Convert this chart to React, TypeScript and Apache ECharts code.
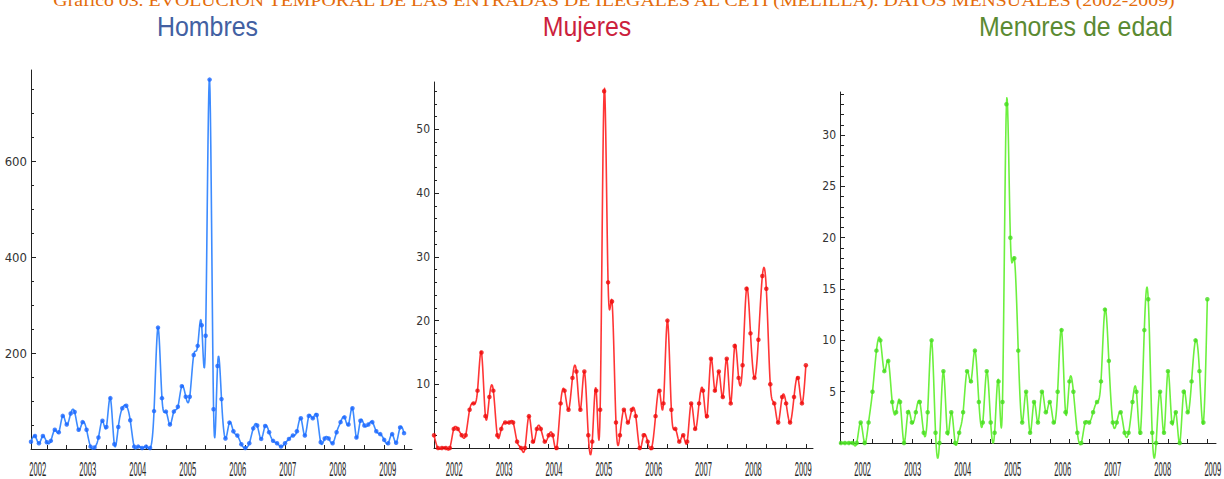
import React, { useEffect, useRef } from 'react';
import * as echarts from 'echarts';

// ---- data ----
const hombres = [
  15, 27, 12, 27, 14, 17, 40, 35, 69, 51,
  74, 77, 40, 56, 40, 5, 3, 24, 59, 46,
  106, 10, 46, 85, 90, 60, 5, 5, 2, 5,
  2, 79, 253, 106, 78, 51, 78, 88, 131, 109,
  109, 196, 215, 258, 236, 770, 83, 173, 104, 22,
  55, 37, 28, 10, 2, 12, 43, 49, 21, 48,
  35, 17, 12, 5, 12, 21, 28, 37, 64, 28,
  69, 64, 71, 14, 22, 22, 12, 35, 56, 66,
  51, 85, 24, 59, 49, 51, 56, 37, 31, 19,
  12, 31, 13, 45, 33,
];
const mujeres = [
  2, 0, 0, 0, 0, 3, 3, 2, 2, 6,
  7, 9, 15, 5, 8, 9, 2, 3, 4, 4,
  4, 1, 0, 0, 5, 1, 3, 3, 1, 2,
  2, 0, 7, 9, 6, 11, 12, 6, 12, 2,
  1, 9, 6, 56, 26, 23, 4, 2, 6, 4,
  6, 5, 0, 2, 1, 0, 5, 9, 7, 20,
  6, 3, 1, 2, 1, 7, 3, 7, 9, 5,
  14, 9, 12, 8, 14, 7, 16, 11, 13, 25,
  18, 11, 17, 27, 25, 10, 7, 4, 8, 7,
  4, 8, 11, 7, 13,
];
const menores = [
  0, 0, 0, 0, 0, 2, 0, 2, 5, 9,
  10, 7, 8, 4, 3, 4, 0, 3, 2, 3,
  4, 1, 3, 10, 1, 0, 7, 1, 3, 0,
  1, 3, 7, 6, 9, 4, 2, 7, 2, 1,
  6, 4, 33, 20, 18, 9, 2, 5, 1, 4,
  2, 5, 3, 4, 2, 5, 11, 3, 6, 5,
  1, 0, 2, 2, 3, 4, 6, 13, 8, 2,
  2, 3, 1, 1, 4, 5, 1, 11, 14, 1,
  0, 5, 1, 7, 2, 3, 0, 5, 3, 6,
  10, 7, 2, 14,
];
const yearLabels = ['2002', '2003', '2004', '2005', '2006', '2007', '2008', '2009'];
const hombresTicks = [200, 400, 600];
const mujeresTicks = [10, 20, 30, 40, 50];
const menoresTicks = [5, 10, 15, 20, 25, 30];
const panelTitles = ['Hombres', 'Mujeres', 'Menores de edad'];
const mainTitle =
  'Gráfico 03. EVOLUCIÓN TEMPORAL DE LAS ENTRADAS DE ILEGALES AL CETI (MELILLA). DATOS MENSUALES (2002-2009)';

// ---- layout / style ----
const NARROW = '"Liberation Sans Narrow", "DejaVu Sans Condensed", "Liberation Sans", Arial, sans-serif';
const SANS = '"Liberation Sans", Arial, sans-serif';
const AXIS = '#222222';
const LABEL = '#333333';

const panels = [
  {
    data: hombres, title: panelTitles[0], titleColor: '#4260A2', titleX: 207.5,
    lineColor: '#3D8BFF', markerColor: '#1A66FF',
    grid: { left: 31, top: 70, width: 381, height: 379 },
    xMin: 0, xMax: 96, yMax: 790, major: hombresTicks, minorStep: 50, yLabelSize: 13,
    firstLabelAt: 1.7, labelStep: 12.6,
  },
  {
    data: mujeres, title: panelTitles[1], titleColor: '#CC1F3D', titleX: 587,
    lineColor: '#FF3535', markerColor: '#EE0A0A',
    grid: { left: 434, top: 82, width: 379, height: 366 },
    xMin: 0, xMax: 95.8, yMax: 57.45, major: mujeresTicks, minorStep: 2, yLabelSize: 12,
    firstLabelAt: 5.13, labelStep: 12.6,
  },
  {
    data: menores, title: panelTitles[2], titleColor: '#5B8A32', titleX: 1076,
    lineColor: '#6CF03E', markerColor: '#45DC1E',
    grid: { left: 840, top: 92, width: 376, height: 351 },
    xMin: -0.25, xMax: 95.2, yMax: 34.2, major: menoresTicks, minorStep: 1, yLabelSize: 12,
    firstLabelAt: 5.5, labelStep: 12.7,
  },
];

// natural cubic spline through equally spaced values
function splinePoints(ys: number[], steps: number): number[][] {
  const n = ys.length;
  const M = new Array(n).fill(0);
  const m = n - 2;
  if (m > 0) {
    const c = new Array(m).fill(0);
    const d = new Array(m).fill(0);
    for (let k = 0; k < m; k++) {
      const i = k + 1;
      const rhs = 6 * (ys[i + 1] - 2 * ys[i] + ys[i - 1]);
      const denom = k === 0 ? 4 : 4 - c[k - 1];
      c[k] = 1 / denom;
      d[k] = (rhs - (k === 0 ? 0 : d[k - 1])) / denom;
    }
    for (let k = m - 1; k >= 0; k--) {
      M[k + 1] = d[k] - c[k] * M[k + 2];
    }
  }
  const pts: number[][] = [];
  for (let i = 0; i < n - 1; i++) {
    for (let s = 0; s < steps; s++) {
      const t = s / steps;
      const u = 1 - t;
      const v = u * ys[i] + t * ys[i + 1] + ((u * u * u - u) * M[i] + (t * t * t - t) * M[i + 1]) / 6;
      pts.push([i + t, v]);
    }
  }
  pts.push([n - 1, ys[n - 1]]);
  return pts;
}

function range(from: number, to: number, step: number): number[] {
  const out: number[] = [];
  for (let v = from; v <= to + 1e-9; v += step) out.push(Math.round(v * 1000) / 1000);
  return out;
}

export default function App() {
  const ref = useRef<HTMLDivElement>(null);

  useEffect(() => {
    if (!ref.current) return;
    const chart = echarts.init(ref.current, null, { renderer: 'svg' });

    const grids: any[] = [];
    const xAxes: any[] = [];
    const yAxes: any[] = [];
    const series: any[] = [];

    panels.forEach((p, k) => {
      grids.push({ ...p.grid, containLabel: false });
      const last = p.data.length - 1;
      const xTicks: number[] = [];
      for (let v = last; v >= 0; v -= 5) xTicks.unshift(v);
      xAxes.push({
        type: 'value', gridIndex: k, min: p.xMin, max: p.xMax,
        axisLine: { show: true, onZero: false, lineStyle: { color: AXIS, width: 1 } },
        axisTick: { show: true, inside: true, length: 4, customValues: xTicks, lineStyle: { color: AXIS } },
        axisLabel: { show: false },
        splitLine: { show: false },
      });
      const minor = range(p.minorStep, p.yMax, p.minorStep).filter((v) => !p.major.includes(v));
      yAxes.push({
        type: 'value', gridIndex: k, position: 'left', min: 0, max: p.yMax,
        axisLine: { show: true, onZero: false, lineStyle: { color: AXIS, width: 1 } },
        axisTick: { show: true, inside: true, length: 5, customValues: p.major, lineStyle: { color: AXIS } },
        axisLabel: {
          show: true, customValues: p.major, margin: 4,
          fontSize: p.yLabelSize, fontFamily: NARROW, color: LABEL,
        },
        splitLine: { show: false },
      });
      yAxes.push({
        type: 'value', gridIndex: k, position: 'left', offset: 0, min: 0, max: p.yMax,
        axisLine: { show: false },
        axisTick: { show: true, inside: true, length: 3, customValues: minor, lineStyle: { color: AXIS } },
        axisLabel: { show: false },
        splitLine: { show: false },
      });

      const curve = splinePoints(p.data, 10);
      series.push({
        type: 'custom', xAxisIndex: k, yAxisIndex: 2 * k, clip: false, silent: true, z: 2,
        data: [[0, 0]],
        renderItem: (_params: any, api: any) => ({
          type: 'polyline',
          shape: { points: curve.map((pt) => api.coord(pt)) },
          style: { stroke: p.lineColor, lineWidth: 1.6, fill: 'none', lineJoin: 'round' },
          silent: true,
        }),
      });
      series.push({
        type: 'scatter', xAxisIndex: k, yAxisIndex: 2 * k, clip: false, silent: true, z: 3,
        symbol: 'circle', symbolSize: 4.5,
        itemStyle: { color: p.markerColor },
        data: p.data.map((v, i) => [i, v]),
      });
    });

    chart.setOption({
      animation: false,
      backgroundColor: '#ffffff',
      grid: grids,
      xAxis: xAxes,
      yAxis: yAxes,
      series,
    });

    // texts positioned from the axes' own scales
    const graphics: any[] = [];
    let titleScale = 1;
    try {
      const ctx = document.createElement('canvas').getContext('2d');
      if (ctx) {
        ctx.font = '17px "Liberation Serif"';
        const w = ctx.measureText(mainTitle).width;
        if (w > 0) titleScale = 1125 / w;
      }
    } catch (e) { /* ignore */ }
    graphics.push({
      type: 'text', x: 614, y: 0.5, scaleX: titleScale, silent: true,
      style: {
        text: mainTitle, fontSize: 17, fontFamily: '"Liberation Serif", serif',
        fill: '#E46C0A', align: 'center', verticalAlign: 'middle',
      },
    });
    panels.forEach((p, k) => {
      graphics.push({
        type: 'text', x: p.titleX, y: 26, scaleX: 0.89, silent: true,
        style: {
          text: p.title, fontSize: 28, fontFamily: SANS, fill: p.titleColor,
          align: 'center', verticalAlign: 'middle',
        },
      });
      yearLabels.forEach((lab, j) => {
        const px = chart.convertToPixel({ xAxisIndex: k } as any, p.firstLabelAt + j * p.labelStep) as number;
        graphics.push({
          type: 'text', x: px, y: 469, scaleX: 0.38, silent: true,
          style: {
            text: lab, fontSize: 20, fontFamily: SANS, fill: '#262626',
            align: 'center', verticalAlign: 'middle',
          },
        });
      });
    });
    chart.setOption({ graphic: graphics });

    return () => chart.dispose();
  }, []);

  return (
    <div
      ref={ref}
      style={{ position: 'absolute', left: 0, top: 0, width: 1224, height: 479, background: '#fff' }}
    />
  );
}
